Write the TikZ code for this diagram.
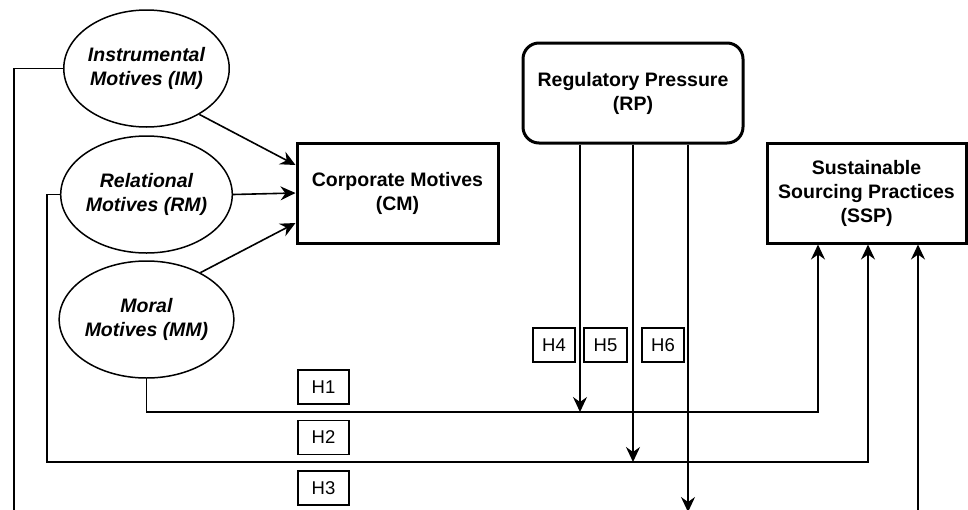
\documentclass[tikz,border=0pt]{standalone}
\usepackage{fontspec}
\setmainfont{Liberation Sans}
\usetikzlibrary{shapes.geometric,arrows.meta,calc}
\begin{document}
\begin{tikzpicture}[x=1pt,y=-1pt,
  oval/.style={ellipse,draw,line width=1.5pt,minimum width=133pt,minimum height=117pt,inner sep=0pt,align=center,font=\fontsize{19.5}{24}\selectfont\bfseries\itshape},
  bigbox/.style={rectangle,draw,line width=3pt,minimum height=100pt,inner sep=0pt,align=center,font=\fontsize{19.5}{24}\selectfont\bfseries},
  hbox/.style={rectangle,draw,line width=1.4pt,minimum height=34pt,inner sep=0pt,font=\fontsize{18.5}{20}\selectfont},
  tip/.tip={Stealth[length=15pt,width=14pt,inset=5pt]},
  arr/.style={draw,line width=1.6pt,-tip}]
\useasboundingbox (0,0) rectangle (968,509);
\clip (0,0) rectangle (968,509);

% nodes
\node[oval] (IM) at (146.5,68.5) {Instrumental\\Motives (IM)};
\node[oval] (RM) at (146.5,194.5) {Relational\\Motives (RM)};
\node[oval] (MM) at (146.5,319.5) {Moral\\Motives (MM)};
\node[bigbox,minimum width=201pt] (CM) at (397.5,193) {Corporate Motives\\(CM)};
\node[bigbox,minimum width=220pt,rounded corners=16pt] (RP) at (633,93) {Regulatory Pressure\\(RP)};
\node[bigbox,minimum width=199pt] (SSP) at (866.5,193) {Sustainable\\Sourcing Practices\\(SSP)};

\node[hbox,minimum width=51pt] (H1) at (323.5,387) {H1};
\node[hbox,minimum width=51pt] (H2) at (323.5,437.5) {H2};
\node[hbox,minimum width=51pt] (H3) at (323.5,488) {H3};
\node[hbox,minimum width=42pt] (H4) at (554,345) {H4};
\node[hbox,minimum width=43pt] (H5) at (605.5,345) {H5};
\node[hbox,minimum width=42pt] (H6) at (663,345) {H6};

% lane coordinates
\coordinate (s1) at (818,412);
\coordinate (s2) at (868,462);
\coordinate (s3) at (918,512);
\coordinate (r1) at (580,412);
\coordinate (r2) at (633,462);
\coordinate (r3) at (688,512);
\coordinate (k2) at (47,462);
\coordinate (k3) at (14,512);

% motives -> CM
\path[arr] (IM.-41) -- ($(CM.west)+(0,-28)$);
\path[arr] (RM.east) -- (CM.west);
\path[arr] (MM.41) -- ($(CM.west)+(0,30)$);

% motives -> SSP
\path[arr] (MM.south) |- (s1) -- (s1 |- SSP.south);
\path[arr] (RM.west) -| (k2) -- (s2) -- (s2 |- SSP.south);
\path[arr] (IM.west) -| (k3) -- (s3) -- (s3 |- SSP.south);

% RP -> lines
\path[arr] (r1 |- RP.south) -- (r1);
\path[arr] (r2 |- RP.south) -- (r2);
\path[arr] (r3 |- RP.south) -- (r3);
\end{tikzpicture}
\end{document}
